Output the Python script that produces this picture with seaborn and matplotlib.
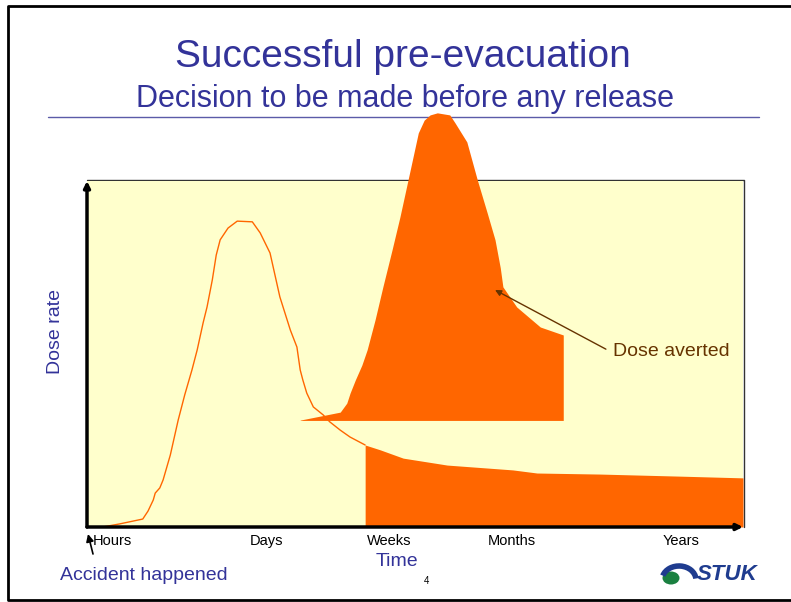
import matplotlib
matplotlib.use("Agg")
import matplotlib.pyplot as plt
import seaborn as sns
from matplotlib.patches import Arc, Ellipse

# arbitrary units, 0-100 on both axes
# thin curve: dose rate of the passing plume
plume_x = [0.5, 2.4, 5.0, 8.5, 9.3, 10.1, 10.4, 11.1, 11.6, 12.7, 13.9, 14.9, 16.0, 16.8,
           17.7, 18.3, 19.1, 19.7, 20.3, 21.5, 22.9, 25.2, 26.4, 27.9, 29.4, 31.0, 32.0,
           32.5, 32.9, 33.5, 34.5, 36.0, 37.0, 38.6, 40.1, 42.4]
plume_y = [0.0, 0.0, 0.9, 2.3, 4.6, 7.8, 9.8, 11.3, 13.6, 20.8, 30.9, 38.2, 45.4, 51.2,
           59.0, 63.6, 71.4, 78.6, 83.0, 86.4, 88.4, 88.2, 85.0, 79.2, 66.5, 56.9, 52.0,
           45.4, 42.5, 38.7, 34.7, 32.4, 30.4, 28.0, 26.0, 23.7]

# big filled peak: dose averted
averted_x = [32.5, 38.6, 39.6, 40.1, 40.9, 41.9, 42.7, 43.9, 45.1, 46.5, 47.7, 49.2, 50.5,
             51.4, 52.3, 53.4, 55.3, 56.1, 57.9, 59.5, 61.0, 62.2, 63.0, 63.4, 65.5, 69.1, 72.6]
averted_top = [30.9, 33.2, 35.8, 38.7, 42.5, 46.8, 51.2, 59.8, 69.4, 80.1, 89.6, 102.6, 113.9,
               117.6, 119.1, 119.7, 119.1, 116.8, 111.3, 100.3, 90.8, 83.0, 74.9, 69.4, 63.6,
               57.8, 55.5]
averted_base = 30.8

# lower filled area: long term dose rate after return
rem_x = [42.4, 44.7, 48.2, 54.9, 64.9, 68.6, 78.2, 90.4, 100.0]
rem_top = [23.7, 22.3, 19.9, 17.9, 16.5, 15.6, 15.3, 14.7, 14.2]

tick_pos = [3.8, 27.4, 46.0, 64.8, 90.5]
tick_labels = ['Hours', 'Days', 'Weeks', 'Months', 'Years']

orange = '#FF6600'
blue = '#333399'

sns.set_theme(style="white")
plt.rcParams['font.family'] = ['Liberation Sans', 'DejaVu Sans']

W, H = 791, 602
fig = plt.figure(figsize=(W / 100, H / 100), dpi=100)

# slide decorations in pixel coordinates
bg = fig.add_axes([0, 0, 1, 1], zorder=0)
bg.set_xlim(0, W)
bg.set_ylim(H, 0)
bg.axis('off')

bg.plot([W + 5, 8, 8, W + 5], [6, 6, 600, 600], color='black', lw=2)
bg.plot([48, 759], [117, 117], color='#5B5BA8', lw=1)
# thin frame at top and right of the plot area (sits under the filled peak)
bg.plot([87, 743.5, 743.5], [180, 180, 527], color='#333333', lw=1)
bg.text(403, 57, 'Successful pre-evacuation', fontsize=28, color=blue, ha='center', va='center')
bg.text(405, 99, 'Decision to be made before any release', fontsize=22, color=blue,
        ha='center', va='center')
bg.text(55, 331, 'Dose rate', rotation=90, fontsize=14, color=blue, ha='center', va='center')
bg.text(397, 561, 'Time', fontsize=14, color=blue, ha='center', va='center')
bg.text(144, 576, 'Accident happened', fontsize=14, color=blue, ha='center', va='center')
bg.text(427, 581, '4', fontsize=7, color='black', ha='center', va='center')
bg.annotate('', xy=(88, 534), xytext=(93, 554),
            arrowprops=dict(arrowstyle='-|>', color='black', lw=1.2, mutation_scale=11,
                            shrinkA=0, shrinkB=0))

# STUK logo
bg.add_patch(Ellipse((671, 578), 17, 13, color='#1A8040', lw=0))
bg.add_patch(Arc((679, 580), 34, 28, theta1=195, theta2=355, color='#1F3C8F', lw=4))
bg.text(697, 575, 'STUK', fontsize=16, fontweight='bold', fontstyle='italic',
        color='#1F3C8F', ha='left', va='center')

# the chart itself
ax = fig.add_axes([87 / W, 1 - 527 / H, 656 / W, 346 / H], zorder=1)
ax.set_facecolor('#FFFFCC')
for s in ax.spines.values():
    s.set_visible(False)

ax.fill_between(rem_x, 0, rem_top, color=orange, lw=0, zorder=3)
ax.fill_between(averted_x, averted_base, averted_top, color=orange, lw=0, clip_on=False,
                zorder=3)
sns.lineplot(x=plume_x, y=plume_y, ax=ax, color=orange, lw=1, zorder=4)
ax.set_xlim(0, 100)
ax.set_ylim(0, 100)

ax.annotate('', xy=(0, 1), xytext=(0, 0), xycoords='axes fraction',
            arrowprops=dict(arrowstyle='-|>', color='black', lw=2.5, mutation_scale=9,
                            shrinkA=0, shrinkB=0), zorder=5)
ax.annotate('', xy=(1, 0), xytext=(0, 0), xycoords='axes fraction',
            arrowprops=dict(arrowstyle='-|>', color='black', lw=2.5, mutation_scale=9,
                            shrinkA=0, shrinkB=0), zorder=5)

ax.set_xticks(tick_pos, tick_labels, fontsize=10.5, color='black')
ax.tick_params(axis='x', length=0, pad=5)
ax.set_yticks([])
ax.set_xlabel('')
ax.set_ylabel('')

ax.text(80.2, 50.6, 'Dose averted', fontsize=14, color='#663300', ha='left', va='center')
ax.annotate('', xy=(62.2, 68.5), xytext=(79.1, 51.4),
            arrowprops=dict(arrowstyle='-|>', color='#663300', lw=1, mutation_scale=9,
                            shrinkA=0, shrinkB=0), zorder=6)

fig.savefig('out.png', dpi=100)
